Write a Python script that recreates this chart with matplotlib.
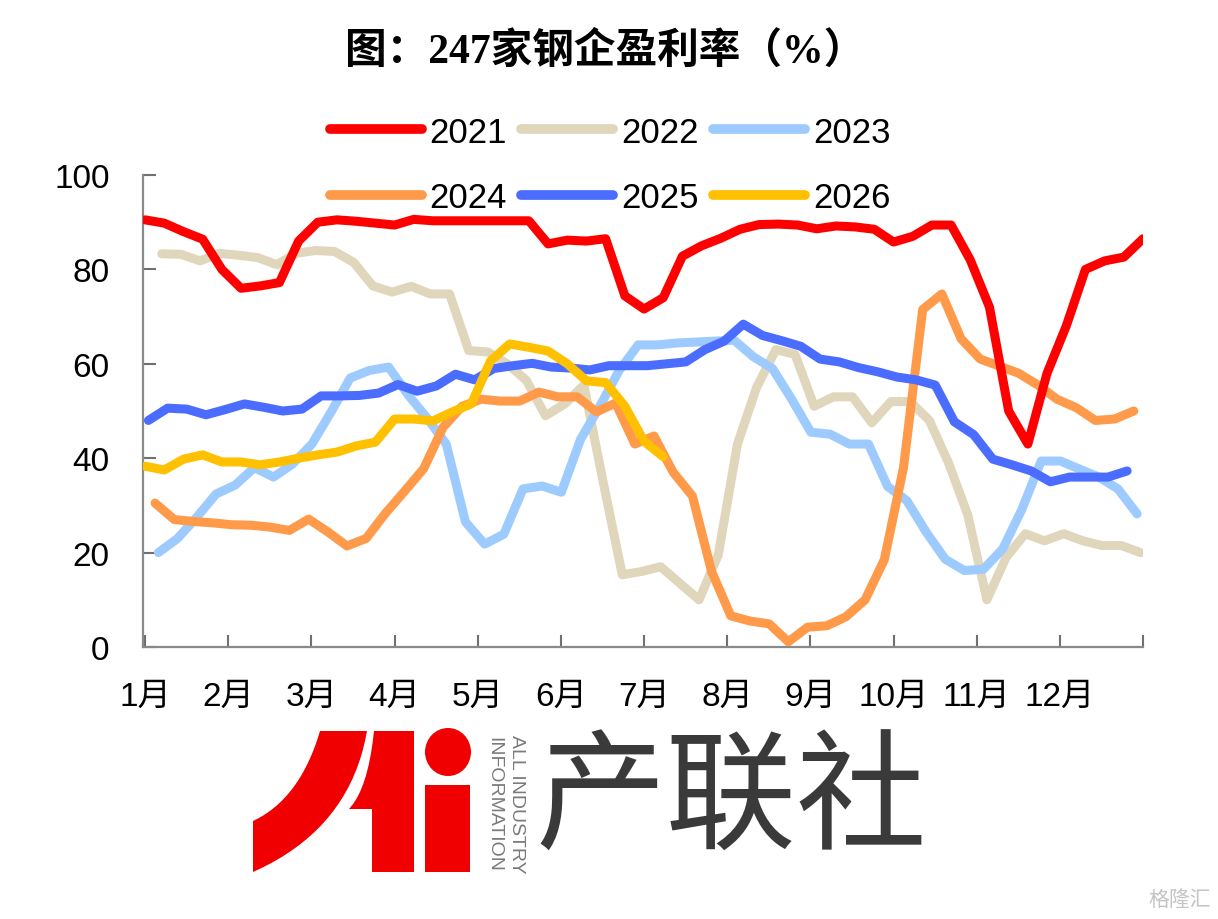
import matplotlib
matplotlib.use("Agg")
import matplotlib.pyplot as plt
import numpy as np
from matplotlib.patches import Polygon, Ellipse, Rectangle

# ---------------- data ----------------
years = ["2021", "2022", "2023", "2024", "2025", "2026"]
colors = ["#FF0000", "#E0D6BC", "#9ECBFF", "#FF9A4A", "#4A6CFF", "#FFC000"]
# first weekly observation of each year, in months after Jan 1
start_month = [0.0, 0.20, 0.16, 0.12, 0.04, 0.0]

d2021 = [90.5, 89.8, 88.0, 86.4, 80.0, 76.0, 76.5, 77.2, 86.0, 90.0,
         90.5, 90.2, 89.8, 89.4, 90.6, 90.3, 90.3, 90.3, 90.3, 90.3,
         90.3, 85.4, 86.2, 86.0, 86.5, 74.4, 71.6, 74.0, 82.8, 85.0,
         86.6, 88.5, 89.5, 89.6, 89.4, 88.6, 89.2, 89.0, 88.5, 85.8,
         87.0, 89.4, 89.4, 82.0, 72.0, 50.0, 43.0, 58.0, 68.0, 80.0,
         81.8, 82.6, 86.5]
d2022 = [83.3, 83.2, 81.8, 83.4, 83.0, 82.5, 81.0, 83.4, 84.0, 83.8,
         81.5, 76.5, 75.2, 76.4, 74.8, 74.8, 62.8, 62.5, 60.0, 56.5,
         49.0, 51.5, 55.5, 35.0, 15.3, 16.0, 17.0, 13.5, 10.0, 19.5,
         43.0, 55.0, 63.0, 62.0, 51.0, 53.0, 53.0, 47.5, 52.0, 52.0,
         48.0, 39.0, 28.0, 10.0, 19.0, 24.0, 22.5, 24.0, 22.5, 21.5,
         21.5, 20.0]
d2023 = [20.0, 23.0, 27.5, 32.4, 34.3, 38.0, 36.0, 38.8, 43.0, 49.8,
         57.0, 58.6, 59.3, 53.5, 48.5, 43.0, 26.5, 21.8, 23.9, 33.5,
         34.1, 32.8, 44.0, 51.0, 58.5, 64.0, 64.0, 64.4, 64.6, 64.8,
         65.0, 61.5, 59.0, 52.5, 45.5, 45.1, 43.0, 43.0, 34.0, 31.0,
         24.4, 18.6, 16.2, 16.5, 20.8, 29.2, 39.4, 39.4, 37.7, 36.0,
         33.5, 28.2]
d2024 = [30.5, 27.0, 26.6, 26.3, 25.9, 25.8, 25.4, 24.7, 27.1, 24.4,
         21.4, 23.0, 28.3, 33.0, 37.8, 46.5, 51.0, 52.5, 52.1, 52.1,
         54.0, 53.0, 53.0, 49.8, 51.7, 43.0, 44.7, 37.0, 32.0, 16.0,
         6.6, 5.5, 4.9, 1.1, 4.2, 4.5, 6.4, 10.0, 18.5, 38.0,
         71.5, 74.8, 65.3, 61.0, 59.5, 58.0, 55.5, 52.5, 50.7, 48.0,
         48.3, 50.0]
d2025 = [48.0, 50.6, 50.4, 49.2, 50.3, 51.5, 50.8, 50.0, 50.4, 53.2,
         53.2, 53.3, 53.8, 55.6, 54.2, 55.3, 57.8, 56.6, 59.0, 59.6,
         60.1, 59.3, 59.1, 58.7, 59.6, 59.6, 59.6, 60.0, 60.4, 63.0,
         64.8, 68.4, 66.0, 64.9, 63.7, 61.0, 60.4, 59.2, 58.3, 57.2,
         56.6, 55.5, 47.7, 45.0, 39.8, 38.6, 37.3, 35.0, 36.0, 36.0,
         36.0, 37.3]
d2026 = [38.3, 37.5, 39.8, 40.7, 39.2, 39.2, 38.6, 39.2, 40.0, 40.7,
         41.3, 42.6, 43.4, 48.3, 48.3, 47.9, 49.8, 51.5, 60.6, 64.2,
         63.5, 62.7, 60.0, 56.4, 56.0, 51.0, 43.6, 40.3]
series = [d2021, d2022, d2023, d2024, d2025, d2026]

month_labels = ["1月", "2月", "3月", "4月", "5月", "6月",
                "7月", "8月", "9月", "10月", "11月", "12月"]
y_ticks = [0, 20, 40, 60, 80, 100]
title = "图：247家钢企盈利率（%）"

# ---------------- figure ----------------
W, H = 1218, 920
fig = plt.figure(figsize=(W / 100, H / 100), dpi=100)
fig.patch.set_facecolor("white")

def fx(x):
    return x / W

def fy(y):
    return 1 - y / H

ax = fig.add_axes([fx(143), fy(648), fx(1143) - fx(143), fy(176) - fy(648)])

lat = ["Liberation Sans", "Noto Sans CJK SC"]
week = 12 / 52
zorders = [8, 2, 3, 4, 5, 6]
lines = []
for name, col, s0, vals, z in zip(years, colors, start_month, series, zorders):
    x = s0 + week * np.arange(len(vals))
    ln, = ax.plot(x, vals, color=col, lw=6.5, label=name,
                  solid_capstyle="round", solid_joinstyle="round", zorder=z)
    lines.append(ln)

ax.set_xlim(-0.025, 12)
ax.set_ylim(0, 100)
ax.set_xticks(np.arange(0, 13))
ax.set_xticklabels(month_labels + [""])
ax.set_yticks(y_ticks)
ax.set_yticklabels([str(v) for v in y_ticks])
for sp in ["top", "right"]:
    ax.spines[sp].set_visible(False)
for sp in ["left", "bottom"]:
    ax.spines[sp].set_color("#8a8a8a")
    ax.spines[sp].set_linewidth(1.6)
ax.tick_params(axis="both", direction="in", length=9, width=1.5,
               color="#707070", labelcolor="black")
ax.tick_params(axis="y", pad=24)
ax.tick_params(axis="x", pad=24)
for lab in ax.get_xticklabels() + ax.get_yticklabels():
    lab.set_fontfamily(lat)
    lab.set_fontsize(24)

# legend: rows 2021 2022 2023 / 2024 2025 2026
order = [0, 3, 1, 4, 2, 5]
leg = fig.legend([lines[i] for i in order], [years[i] for i in order],
                 ncol=3, loc="center", bbox_to_anchor=(fx(610), fy(166)),
                 frameon=False, prop={"family": lat, "size": 25},
                 handlelength=2.65, handletextpad=0.22, columnspacing=0.42,
                 labelspacing=0.95, borderpad=0)
for h in leg.get_lines():
    h.set_linewidth(7)

# title
fig.text(fx(605), fy(52), title, ha="center", va="center", fontsize=30,
         fontweight="bold", family=["Liberation Serif", "Noto Sans CJK SC"])

# ---------------- logo ----------------
red = "#F00000"

def P(pts):
    return [(fx(a), fy(b)) for a, b in pts]

def qbez(p0, c, p2, n=20):
    t = np.linspace(0, 1, n)[:, None]
    p0, c, p2 = map(np.asarray, (p0, c, p2))
    return list(map(tuple, (1 - t) ** 2 * p0 + 2 * (1 - t) * t * c + t ** 2 * p2))

outer = qbez((253, 822), (300, 800), (320, 732))
inner = qbez((367, 732), (350, 830), (253, 873))
blade = [(253, 873)] + outer + inner
fig.add_artist(Polygon(P(blade), closed=True, transform=fig.transFigure,
                       facecolor=red, edgecolor="none"))
slant = qbez((349, 810), (368, 790), (374, 732), n=10)
one = [(374, 732), (414, 732), (414, 873), (372, 873), (372, 810)] + slant
fig.add_artist(Polygon(P(one), closed=True, transform=fig.transFigure,
                       facecolor=red, edgecolor="none"))
fig.add_artist(Ellipse((fx(448), fy(753)), fx(46), 48 / H,
                       transform=fig.transFigure, facecolor=red, edgecolor="none"))
fig.add_artist(Rectangle((fx(425), fy(873)), fx(45), 87 / H,
                         transform=fig.transFigure, facecolor=red, edgecolor="none"))
fig.text(fx(516), fy(804), "ALL INDUSTRY", rotation=-90, ha="center", va="center",
         fontsize=14, color="#7a7a7a", family="Liberation Sans")
fig.text(fx(494), fy(804), "INFORMATION", rotation=-90, ha="center", va="center",
         fontsize=14, color="#7a7a7a", family="Liberation Sans")
fig.text(fx(731), fy(803), "产联社", ha="center", va="center", fontsize=94,
         color="#3a3a3a", family="Noto Sans CJK SC", fontweight="light")
fig.text(fx(1180), fy(900), "格隆汇", ha="center", va="center", fontsize=15,
         color="#c4c4c4", family="Noto Sans CJK SC")

fig.savefig("out.png", dpi=100, facecolor="white")
